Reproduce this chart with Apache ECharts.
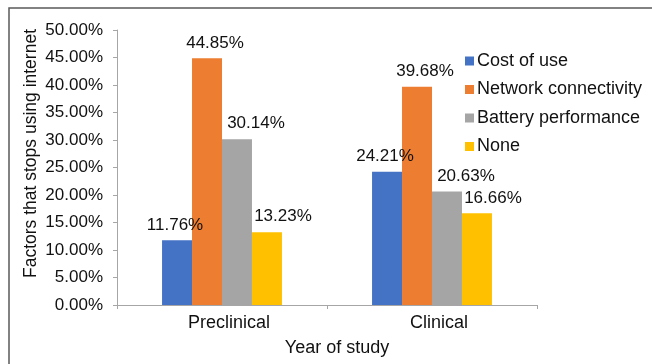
<!DOCTYPE html>
<html>
<head>
<meta charset="utf-8">
<script src="https://cdn.jsdelivr.net/npm/echarts@6/dist/echarts.min.js"></script>
<style>
  html, body { margin: 0; padding: 0; background: #fff; }
  #chart { width: 652px; height: 364px; }
</style>
</head>
<body>
<div id="chart"></div>
<script>
// Year-of-study groups and the share (%) of students citing each factor
const categories = ['Preclinical', 'Clinical'];
const seriesNames = ['Cost of use', 'Network connectivity', 'Battery performance', 'None'];
const costOfUse = [11.76, 24.21];
const networkConnectivity = [44.85, 39.68];
const batteryPerformance = [30.14, 20.63];
const noneValues = [13.23, 16.66];
const yTicks = { min: 0, max: 50, step: 5 };

const seriesData = [costOfUse, networkConnectivity, batteryPerformance, noneValues];
const colors = ['#4472C4', '#ED7D31', '#A5A5A5', '#FFC000'];
// horizontal nudge of each series' value labels
const labelShift = [-2, 8, 19, 16];

const FONT = 'Liberation Sans, Arial, sans-serif';
const TEXT = '#111';
const AXIS = '#A6A6A6';

const chart = echarts.init(document.getElementById('chart'), null, { renderer: 'canvas' });

chart.setOption({
  animation: false,
  backgroundColor: '#fff',
  textStyle: { fontFamily: FONT, color: TEXT },
  graphic: [{
    type: 'rect',
    shape: { x: 9, y: 8, width: 700, height: 400 },
    style: { fill: 'none', stroke: '#5a5a5a', lineWidth: 1.5 },
    silent: true
  }],
  grid: { left: 117, right: 115, top: 30, bottom: 59, containLabel: false },
  legend: {
    orient: 'vertical',
    left: 460,
    top: 46,
    itemWidth: 9,
    itemHeight: 9,
    itemGap: 8.5,
    icon: 'rect',
    textStyle: { fontFamily: FONT, fontSize: 18, color: TEXT, lineHeight: 20, padding: [0, 0, 0, -2] },
    data: seriesNames
  },
  xAxis: {
    type: 'category',
    data: categories,
    name: 'Year of study',
    nameLocation: 'middle',
    nameGap: 34,
    nameTextStyle: { fontFamily: FONT, fontSize: 18, color: TEXT, padding: [0, 0, 0, 20] },
    axisLine: { lineStyle: { color: AXIS, width: 1 } },
    axisTick: { show: true, length: 4, alignWithLabel: false, lineStyle: { color: AXIS } },
    axisLabel: { fontFamily: FONT, fontSize: 18, color: TEXT, margin: 9, padding: [0, 0, 0, 14] }
  },
  yAxis: {
    type: 'value',
    min: yTicks.min,
    max: yTicks.max,
    interval: yTicks.step,
    name: 'Factors that stops using internet',
    nameLocation: 'middle',
    nameGap: 77,
    nameMoveOverlap: false,
    nameRotate: 90,
    nameTextStyle: { fontFamily: FONT, fontSize: 17.5, color: TEXT, padding: [0, 0, 0, 28] },
    axisLine: { show: true, lineStyle: { color: AXIS, width: 1 } },
    axisTick: { show: true, length: 4, lineStyle: { color: AXIS } },
    splitLine: { show: false },
    axisLabel: {
      fontFamily: FONT, fontSize: 17, color: TEXT, margin: 14,
      formatter: v => v.toFixed(2) + '%'
    }
  },
  series: seriesNames.map((name, i) => ({
    name,
    type: 'bar',
    data: seriesData[i],
    barGap: '0%',
    barCategoryGap: '42.9%',
    itemStyle: { color: colors[i] },
    label: {
      show: true,
      position: 'top',
      distance: 7,
      offset: [labelShift[i], 0],
      fontFamily: FONT,
      fontSize: 17,
      color: TEXT,
      formatter: p => p.value.toFixed(2) + '%'
    }
  }))
});
</script>
</body>
</html>
